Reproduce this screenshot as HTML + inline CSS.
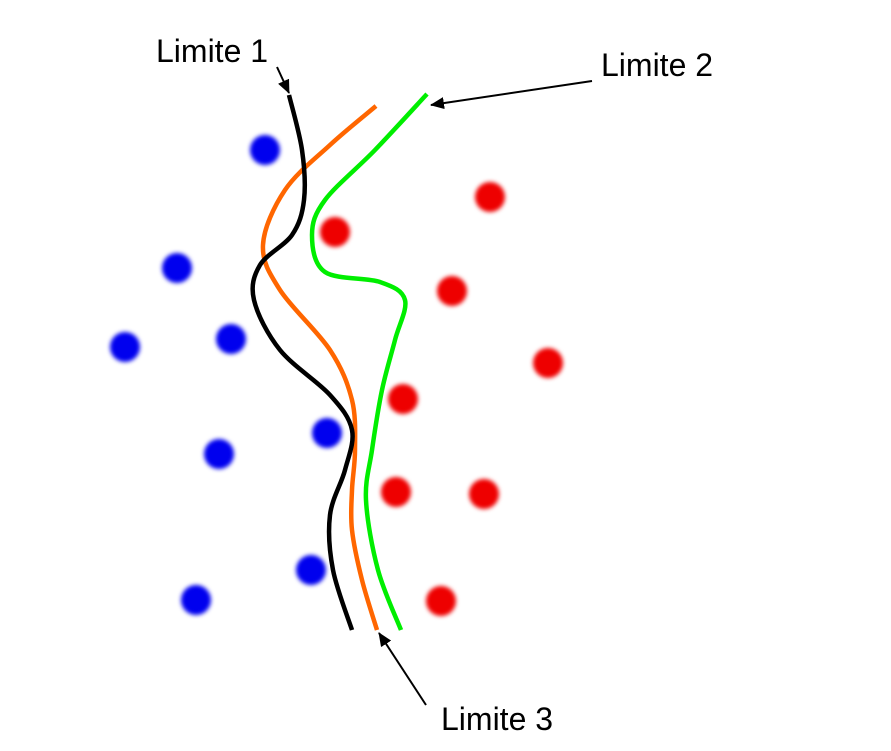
<!DOCTYPE html>
<html><head><meta charset="utf-8"><style>
html,body{margin:0;padding:0;background:#fff;}
svg{display:block;}
text{font-family:"Liberation Sans",sans-serif;font-size:32px;fill:#000;}
</style></head><body>
<svg id="chart" width="891" height="751" viewBox="0 0 891 751" xmlns="http://www.w3.org/2000/svg">
<defs>
<filter id="blur" x="-50%" y="-50%" width="200%" height="200%"><feGaussianBlur stdDeviation="2"/></filter>
<marker id="arr" markerWidth="14" markerHeight="12" refX="13" refY="6" orient="auto" markerUnits="userSpaceOnUse"><path d="M0,0 L14,6 L0,12 z" fill="#000"/></marker>
</defs>
<g id="points"></g>
<g id="curves"></g>
<g id="annotations">
<text x="156" y="62">Limite 1</text>
<line x1="277" y1="67" x2="289" y2="93" stroke="#000" stroke-width="2" marker-end="url(#arr)"/>
<text x="601" y="76">Limite 2</text>
<line x1="592" y1="81" x2="431" y2="105" stroke="#000" stroke-width="2" marker-end="url(#arr)"/>
<text x="441" y="730">Limite 3</text>
<line x1="426" y1="705" x2="379" y2="633" stroke="#000" stroke-width="2" marker-end="url(#arr)"/>
</g>
</svg>
<script>
const blueX=[265,177,125,231,219,327,311,196];
const blueY=[150,268,347,339,454,433,570,600];
const redX=[490,335,452,548,403,396,484,441];
const redY=[197,232,291,363,399,492,494,601];
const limite1X=[289,302,304,292,260,254,280,330,352,345,330,333,352];
const limite1Y=[95,150,200,235,265,300,350,395,430,470,515,570,630];
const limite2X=[427,375,325,312,325,380,405,395,382,372,366,378,401];
const limite2Y=[94,150,200,235,272,282,300,340,390,450,500,570,630];
const limite3X=[376,330,285,263,280,330,352,355,352,352,362,377];
const limite3Y=[106,145,190,245,290,350,400,450,490,530,580,630];
const NS="http://www.w3.org/2000/svg";
const pg=document.getElementById('points');
function dot(x,y,color,name){
  const c=document.createElementNS(NS,'circle');
  c.setAttribute('cx',x);c.setAttribute('cy',y);c.setAttribute('r',15);
  c.setAttribute('fill',color);c.setAttribute('filter','url(#blur)');
  
  
  pg.appendChild(c);
}
blueX.forEach((x,i)=>dot(x,blueY[i],'#0000ee','blue-point'));
redX.forEach((x,i)=>dot(x,redY[i],'#ee0000','red-point'));
function smooth(xs,ys){
  let d='M'+xs[0]+','+ys[0];
  for(let i=0;i<xs.length-1;i++){
    const x0=xs[Math.max(i-1,0)],y0=ys[Math.max(i-1,0)];
    const x1=xs[i],y1=ys[i],x2=xs[i+1],y2=ys[i+1];
    const x3=xs[Math.min(i+2,xs.length-1)],y3=ys[Math.min(i+2,ys.length-1)];
    d+=' C'+(x1+(x2-x0)/6)+','+(y1+(y2-y0)/6)+' '+(x2-(x3-x1)/6)+','+(y2-(y3-y1)/6)+' '+x2+','+y2;
  }
  return d;
}
const cg=document.getElementById('curves');
function curve(xs,ys,color,name){
  const p=document.createElementNS(NS,'path');
  p.setAttribute('d',smooth(xs,ys));p.setAttribute('fill','none');
  p.setAttribute('stroke',color);p.setAttribute('stroke-width',4.5);
  
  
  cg.appendChild(p);
}
curve(limite3X,limite3Y,'#ff6600','limite-3-curve');
curve(limite2X,limite2Y,'#00ee00','limite-2-curve');
curve(limite1X,limite1Y,'#000000','limite-1-curve');
</script>
</body></html>
